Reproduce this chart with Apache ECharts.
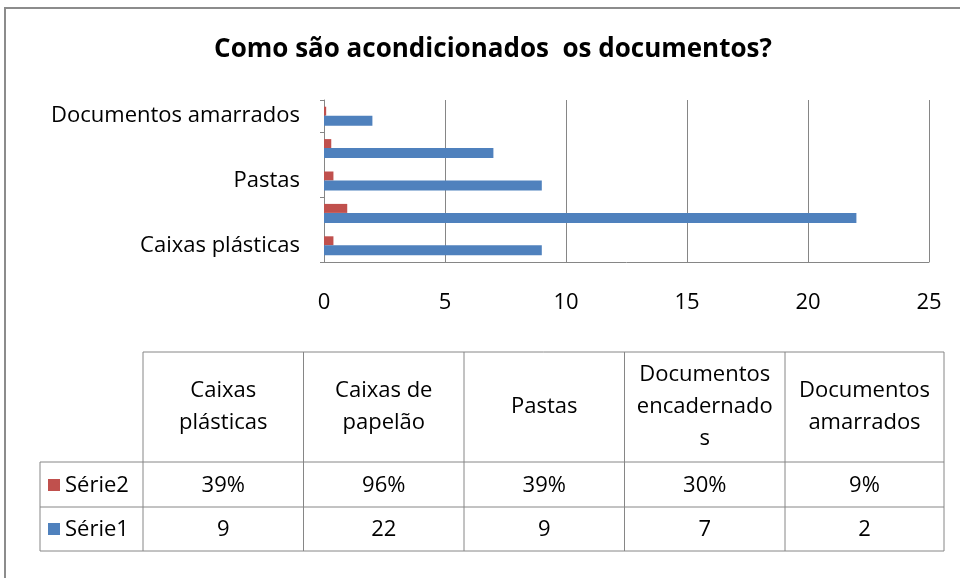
<!DOCTYPE html>
<html>
<head>
<meta charset="utf-8">
<script src="https://cdn.jsdelivr.net/npm/echarts@6/dist/echarts.min.js"></script>
<style>
  html, body { margin: 0; padding: 0; background: #fff; }
  #main { width: 960px; height: 578px; }
</style>
</head>
<body>
<div id="main"></div>
<script>
// dados do gráfico
var categorias = ['Caixas plásticas', 'Caixas de papelão', 'Pastas', 'Documentos encadernados', 'Documentos amarrados'];
var cabecalhoTabela = ['Caixas\nplásticas', 'Caixas de\npapelão', 'Pastas', 'Documentos\nencadernado\ns', 'Documentos\namarrados'];
var serie1 = [9, 22, 9, 7, 2];
var serie2 = [0.39, 0.96, 0.39, 0.30, 0.09];
var serie2Rotulos = ['39%', '96%', '39%', '30%', '9%'];
var xTicks = [0, 5, 10, 15, 20, 25];

var FONTE = '"Open Sans", sans-serif';
var TAM = 22;
var AZUL = '#4F81BD', VERMELHO = '#C0504D', CINZA = '#868686';

var myChart = echarts.init(document.getElementById('main'));

// tabela de dados (montada com graphic)
var colX = [143, 303.5, 464, 624.5, 785, 944];
var linhaY = [352, 462, 507, 551];
var graficos = [];

// moldura externa
graficos.push({ type: 'rect', shape: { x: 5, y: 8, width: 970, height: 590 }, style: { fill: 'none', stroke: '#8c8c8c', lineWidth: 2 } });

function linha(x1, y1, x2, y2) {
    graficos.push({ type: 'line', shape: { x1: x1, y1: y1, x2: x2, y2: y2 }, style: { stroke: CINZA, lineWidth: 1 } });
}
linha(colX[0], linhaY[0], colX[5], linhaY[0]);
linha(40, linhaY[1], colX[5], linhaY[1]);
linha(40, linhaY[2], colX[5], linhaY[2]);
linha(40, linhaY[3], colX[5], linhaY[3]);
linha(40, linhaY[1], 40, linhaY[3]);
colX.forEach(function (x) { linha(x, linhaY[0], x, linhaY[3]); });

function texto(x, y, t, align) {
    graficos.push({
        type: 'text', x: x, y: y,
        style: { text: t, fill: '#000', font: TAM + 'px ' + FONTE, align: align || 'center', verticalAlign: 'middle', lineHeight: 32 }
    });
}
for (var i = 0; i < categorias.length; i++) {
    var cx = (colX[i] + colX[i + 1]) / 2;
    texto(cx, (linhaY[0] + linhaY[1]) / 2, cabecalhoTabela[i]);
    texto(cx, (linhaY[1] + linhaY[2]) / 2 + 1, serie2Rotulos[i]);
    texto(cx, (linhaY[2] + linhaY[3]) / 2 + 1, String(serie1[i]));
}
// legenda dentro da tabela
graficos.push({ type: 'rect', shape: { x: 48, y: 479, width: 12, height: 12 }, style: { fill: VERMELHO } });
graficos.push({ type: 'rect', shape: { x: 48, y: 523, width: 12, height: 12 }, style: { fill: AZUL } });
texto(65, (linhaY[1] + linhaY[2]) / 2 + 1, 'Série2', 'left');
texto(65, (linhaY[2] + linhaY[3]) / 2 + 1, 'Série1', 'left');

var option = {
    backgroundColor: '#fff',
    animation: false,
    title: {
        text: 'Como são acondicionados  os documentos?',
        left: 488, top: 32, textAlign: 'center',
        textStyle: { fontFamily: FONTE, fontSize: 26, fontWeight: 'bold', color: '#000' }
    },
    grid: { left: 324, right: 31, top: 100, bottom: 316 },
    xAxis: {
        type: 'value', min: xTicks[0], max: xTicks[xTicks.length - 1], interval: 5,
        axisLine: { show: true, lineStyle: { color: CINZA } },
        axisTick: { show: false },
        splitLine: { show: true, lineStyle: { color: CINZA } },
        axisLabel: { fontFamily: FONTE, fontSize: TAM, color: '#000', margin: 30 }
    },
    yAxis: {
        type: 'category', data: categorias,
        axisLine: { show: true, lineStyle: { color: CINZA } },
        axisTick: { show: true, length: 4, lineStyle: { color: CINZA } },
        axisLabel: { interval: 1, fontFamily: FONTE, fontSize: TAM, color: '#000', margin: 24 }
    },
    series: [
        { name: 'Série2', type: 'bar', data: serie2, barWidth: 9, barGap: '0%', itemStyle: { color: VERMELHO } },
        { name: 'Série1', type: 'bar', data: serie1, barWidth: 10, barGap: '0%', itemStyle: { color: AZUL } }
    ],
    graphic: graficos
};
myChart.setOption(option);
</script>
</body>
</html>
